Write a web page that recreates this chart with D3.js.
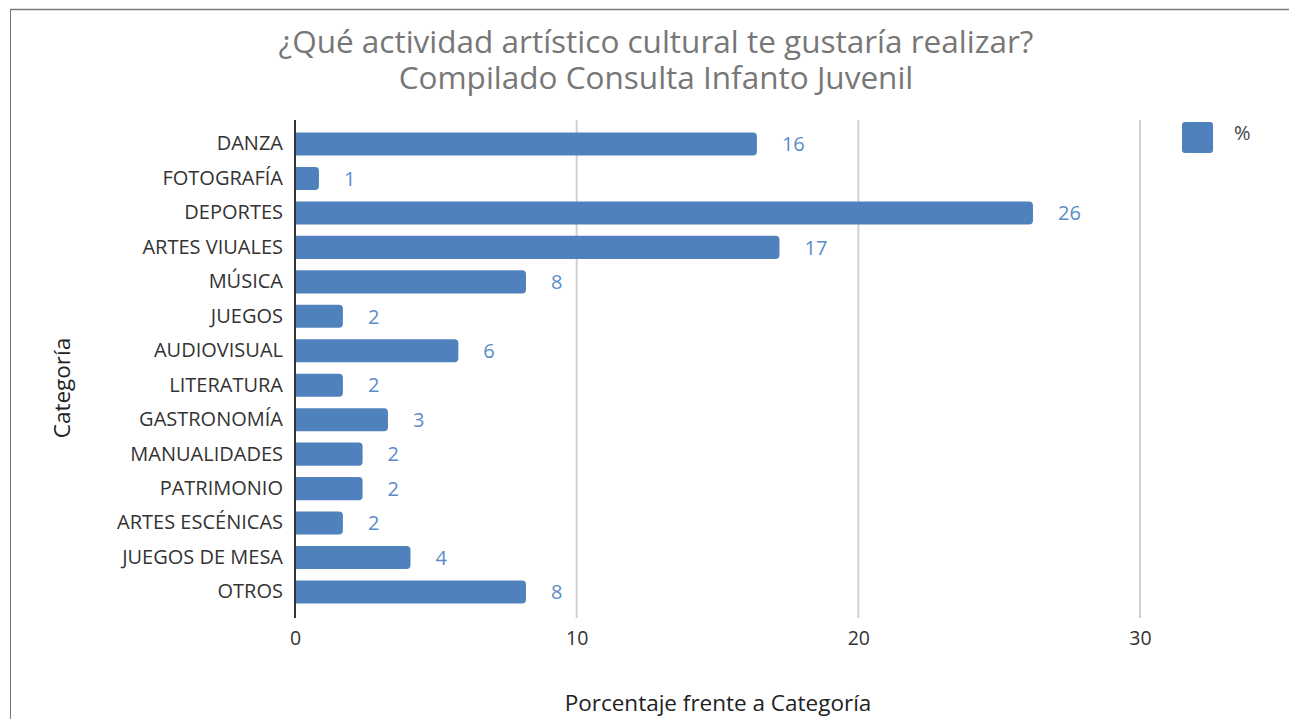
<!DOCTYPE html>
<html>
<head>
<meta charset="utf-8">
<script src="https://cdn.jsdelivr.net/npm/d3@7"></script>
<style>
  html, body { margin: 0; padding: 0; background: #fff; }
  svg { display: block; font-family: "Open Sans", sans-serif; }
</style>
</head>
<body>
<svg id="chart" width="1289" height="719"></svg>
<script>
// Values (bar lengths), labels are the rounded numbers
var categories = ["DANZA", "FOTOGRAFÍA", "DEPORTES", "ARTES VIUALES", "MÚSICA", "JUEGOS",
    "AUDIOVISUAL", "LITERATURA", "GASTRONOMÍA", "MANUALIDADES", "PATRIMONIO",
    "ARTES ESCÉNICAS", "JUEGOS DE MESA", "OTROS"];
var values = [16.4, 0.85, 26.2, 17.2, 8.2, 1.7, 5.8, 1.7, 3.3, 2.4, 2.4, 1.7, 4.1, 8.2];
var labels = ["16", "1", "26", "17", "8", "2", "6", "2", "3", "2", "2", "2", "4", "8"];
var xTicks = [0, 10, 20, 30];
var titleLines = ["¿Qué actividad artístico cultural te gustaría realizar?",
    "Compilado Consulta Infanto Juvenil"];
var seriesName = "%";

var svg = d3.select("#chart");
var barColor = "#4f81bd";

// frame of the embedded chart
svg.append("line")
    .attr("x1", 10).attr("x2", 1289).attr("y1", 9.5).attr("y2", 9.5)
    .attr("stroke", "#777").attr("stroke-width", 1.5);
svg.append("line")
    .attr("x1", 10.5).attr("x2", 10.5).attr("y1", 9).attr("y2", 719)
    .attr("stroke", "#777").attr("stroke-width", 1);

var plot = { left: 295, right: 1140, top: 127.3, bottom: 608.7 };

var x = d3.scaleLinear().domain([0, 30]).range([plot.left, plot.right]);
var y = d3.scaleBand().domain(categories)
    .range([plot.top, plot.bottom]).paddingInner(0.33).paddingOuter(0.15);

// gridlines
svg.append("g").selectAll("line")
    .data(xTicks.filter(function (d) { return d > 0; }))
    .enter().append("line")
    .attr("x1", function (d) { return x(d); })
    .attr("x2", function (d) { return x(d); })
    .attr("y1", 120).attr("y2", 618)
    .attr("stroke", "#d0d0d0").attr("stroke-width", 2);

// bars, rounded at the far end
function barPath(d, i) {
    var x0 = x(0), x1 = x(d), y0 = y(categories[i]), h = y.bandwidth();
    var r = Math.min(4, (x1 - x0) / 2);
    return "M" + x0 + "," + y0 +
        "H" + (x1 - r) +
        "Q" + x1 + "," + y0 + " " + x1 + "," + (y0 + r) +
        "V" + (y0 + h - r) +
        "Q" + x1 + "," + (y0 + h) + " " + (x1 - r) + "," + (y0 + h) +
        "H" + x0 + "Z";
}

svg.append("g").selectAll("path")
    .data(values)
    .enter().append("path")
    .attr("d", barPath)
    .attr("fill", barColor);

// data labels
svg.append("g").selectAll("text")
    .data(values)
    .enter().append("text")
    .attr("x", function (d) { return x(d) + 25; })
    .attr("y", function (d, i) { return y(categories[i]) + y.bandwidth() / 2; })
    .attr("dy", "0.36em")
    .attr("font-size", 20)
    .attr("fill", "#5b8cc9")
    .text(function (d, i) { return labels[i]; });

// y axis
var yAxis = svg.append("g")
    .attr("transform", "translate(" + plot.left + ",0)")
    .call(d3.axisLeft(y).tickSize(0).tickPadding(12));
yAxis.select(".domain").remove();
yAxis.selectAll("text")
    .attr("font-size", 20).attr("fill", "#333")
    .attr("font-family", "'Open Sans', sans-serif");
svg.append("line")
    .attr("x1", plot.left).attr("x2", plot.left)
    .attr("y1", 120).attr("y2", 618)
    .attr("stroke", "#333").attr("stroke-width", 2);

// x axis
var xAxis = svg.append("g")
    .attr("transform", "translate(0,618)")
    .call(d3.axisBottom(x).tickValues(xTicks).tickSize(0).tickPadding(13));
xAxis.select(".domain").remove();
xAxis.selectAll("text")
    .attr("font-size", 19.5).attr("fill", "#333")
    .attr("font-family", "'Open Sans', sans-serif");

// title, two lines in one text element
var title = svg.append("text")
    .attr("text-anchor", "middle")
    .attr("font-size", 31.5)
    .attr("fill", "#777");
title.selectAll("tspan")
    .data(titleLines)
    .enter().append("tspan")
    .attr("x", 656)
    .attr("y", function (d, i) { return 53 + i * 36; })
    .text(function (d) { return d; });

svg.append("text")
    .attr("x", 718).attr("y", 711)
    .attr("text-anchor", "middle")
    .attr("font-size", 22.5).attr("fill", "#222")
    .text("Porcentaje frente a Categoría");

svg.append("text")
    .attr("transform", "translate(70,388) rotate(-90)")
    .attr("text-anchor", "middle")
    .attr("font-size", 22.5).attr("fill", "#222")
    .text("Categoría");

// legend
var legend = svg.append("g").attr("transform", "translate(1182,122)");
legend.append("rect")
    .attr("width", 31).attr("height", 31).attr("rx", 3)
    .attr("fill", barColor);
legend.append("text")
    .attr("x", 52).attr("y", 11).attr("dy", "0.36em")
    .attr("font-size", 20).attr("fill", "#444")
    .text(seriesName);
</script>
</body>
</html>
